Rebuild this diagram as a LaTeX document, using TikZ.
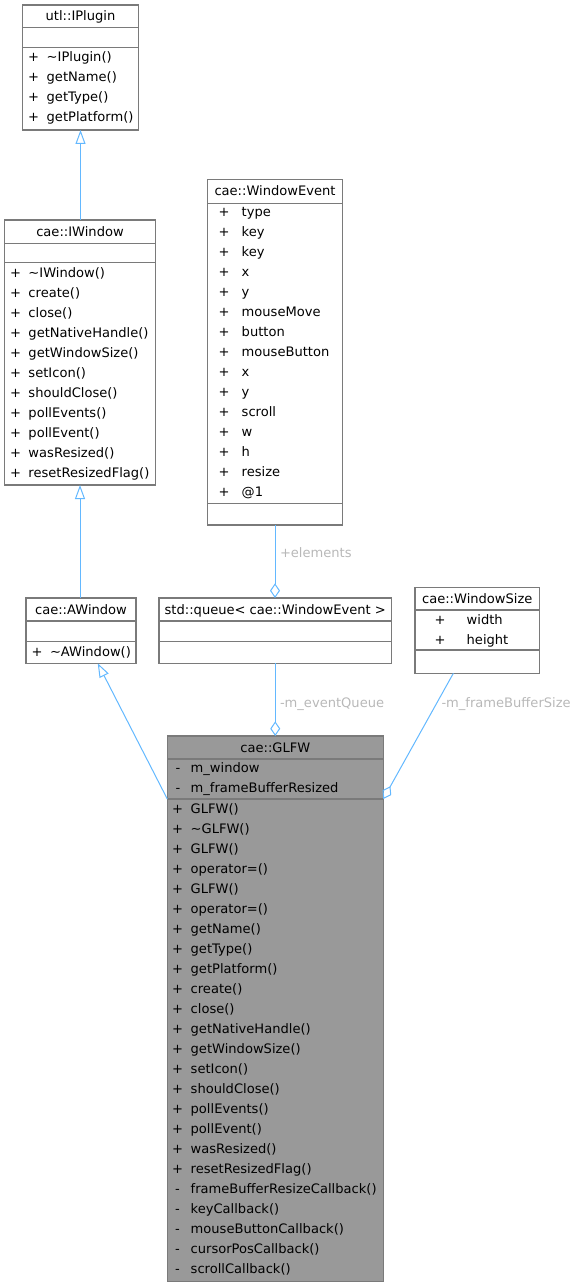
\documentclass[tikz,border=0pt]{standalone}
\usepackage{fontspec}
\setmainfont{DejaVu Sans}
\usetikzlibrary{arrows.meta,fit}
\definecolor{gBorder}{HTML}{7A7A7A}
\definecolor{gFocus}{HTML}{999999}
\definecolor{gRole}{HTML}{B8B8B8}
\definecolor{edgeBlue}{HTML}{63B8FF}
\tikzset{
  umlSet/.style={
    font=\fontsize{9.8}{12}\selectfont,
    every node/.style={inner sep=0pt, outer sep=0pt},
  },
  classBox/.style={draw=gBorder, fill=white, line width=0.9pt, inner sep=0pt},
  classBoxFocus/.style={classBox, fill=gFocus},
  classTitle/.style={anchor=base},
  memberSign/.style={anchor=base},
  memberName/.style={anchor=base west},
  compLine/.style={gBorder, line width=0.9pt},
  inheritEdge/.style={-{Triangle[open, length=10.5pt, width=7.5pt]}, edgeBlue, line width=0.75pt},
  aggrEdge/.style={-{Diamond[open, length=11pt, width=7.5pt]}, edgeBlue, line width=0.75pt},
  roleLabel/.style={anchor=base west, text=gRole},
}
\begin{document}
\begin{tikzpicture}[umlSet, x=0.75pt, y=-0.75pt]
\useasboundingbox (0,0) rectangle (578,1287);

% ============================================================
% utl::IPlugin
% ============================================================
\node[classBox, fit={(22.7,5) (138.3,130)}] (iplugin) {};
\draw[compLine] (iplugin.west |- 0,27.3) -- (iplugin.east |- 0,27.3);
\draw[compLine] (iplugin.west |- 0,47.3) -- (iplugin.east |- 0,47.3);
\node[classTitle] (ipluginT) at (iplugin.north |- 0,20.7) {utl::IPlugin};
\foreach \txt [count=\k from 0] in {{\textasciitilde IPlugin()}, getName(), getType(), getPlatform()} {
  \node[memberSign] (ipluginS\k) at (33.7,{61.2+20*\k}) {+};
  \node[memberName] (ipluginM\k) at (46.7,{61.2+20*\k}) {\txt};
}

% ============================================================
% cae::IWindow
% ============================================================
\node[classBox, fit={(4.5,220) (155.5,485)}] (iwindow) {};
\draw[compLine] (iwindow.west |- 0,243.3) -- (iwindow.east |- 0,243.3);
\draw[compLine] (iwindow.west |- 0,262.3) -- (iwindow.east |- 0,262.3);
\node[classTitle] (iwindowT) at (iwindow.north |- 0,236.8) {cae::IWindow};
\foreach \txt [count=\k from 0] in {{\textasciitilde IWindow()}, create(), close(),
    getNativeHandle(), getWindowSize(), setIcon(), shouldClose(), pollEvents(),
    pollEvent(), wasResized(), resetResizedFlag()} {
  \node[memberSign] (iwindowS\k) at (15.5,{277.2+20*\k}) {+};
  \node[memberName] (iwindowM\k) at (28.5,{277.2+20*\k}) {\txt};
}

% ============================================================
% cae::WindowEvent
% ============================================================
\node[classBox, fit={(207.3,179.5) (342.7,525)}] (wevent) {};
\draw[compLine] (wevent.west |- 0,203.3) -- (wevent.east |- 0,203.3);
\draw[compLine] (wevent.west |- 0,503.3) -- (wevent.east |- 0,503.3);
\node[classTitle] (weventT) at (wevent.north |- 0,195.5) {cae::WindowEvent};
\foreach \txt [count=\k from 0] in {type, key, key, x, y, mouseMove, button,
    mouseButton, x, y, scroll, w, h, resize, @1} {
  \node[memberSign] (weventS\k) at (224,{216.8+20*\k}) {+};
  \node[memberName] (weventM\k) at (241.7,{216.8+20*\k}) {\txt};
}

% ============================================================
% cae::AWindow
% ============================================================
\node[classBox, fit={(26,598) (136,663.3)}] (awindow) {};
\draw[compLine] (awindow.west |- 0,621) -- (awindow.east |- 0,621);
\draw[compLine] (awindow.west |- 0,641.7) -- (awindow.east |- 0,641.7);
\node[classTitle] (awindowT) at (awindow.north |- 0,614) {cae::AWindow};
\node[memberSign] (awindowS0) at (37,656.2) {+};
\node[memberName] (awindowM0) at (50,656.2) {\textasciitilde AWindow()};

% ============================================================
% std::queue< cae::WindowEvent >
% ============================================================
\node[classBox, fit={(159,598) (391.5,663.3)}] (queue) {};
\draw[compLine] (queue.west |- 0,621) -- (queue.east |- 0,621);
\draw[compLine] (queue.west |- 0,641.7) -- (queue.east |- 0,641.7);
\node[classTitle] (queueT) at (queue.north |- 0,614) {std::queue< cae::WindowEvent >};

% ============================================================
% cae::WindowSize
% ============================================================
\node[classBox, fit={(415,587.3) (539.5,673.3)}] (wsize) {};
\draw[compLine] (wsize.west |- 0,610) -- (wsize.east |- 0,610);
\draw[compLine] (wsize.west |- 0,650) -- (wsize.east |- 0,650);
\node[classTitle] (wsizeT) at (wsize.north |- 0,603.2) {cae::WindowSize};
\foreach \txt [count=\k from 0] in {width, height} {
  \node[memberSign] (wsizeS\k) at (440,{624+20*\k}) {+};
  \node[memberName] (wsizeM\k) at (466.7,{624+20*\k}) {\txt};
}

% ============================================================
% cae::GLFW (the class this graph is about)
% ============================================================
\node[classBoxFocus, fit={(167.3,736) (383.3,1281.5)}] (glfw) {};
\draw[compLine] (glfw.west |- 0,759) -- (glfw.east |- 0,759);
\draw[compLine] (glfw.west |- 0,799) coordinate (glfwDivL)
  -- (glfw.east |- 0,799) coordinate (glfwDivR);
\node[classTitle] (glfwT) at (glfw.north |- 0,752.5) {cae::GLFW};
\foreach \txt [count=\k from 0] in {m\_window, m\_frameBufferResized} {
  \node[memberSign] (glfwAS\k) at (178,{772.5+20*\k}) {-};
  \node[memberName] (glfwAM\k) at (190.7,{772.5+20*\k}) {\txt};
}
\foreach \sgn/\txt [count=\k from 0] in {+/GLFW(), +/{\textasciitilde GLFW()}, +/GLFW(),
    +/operator=(), +/GLFW(), +/operator=(), +/getName(), +/getType(),
    +/getPlatform(), +/create(), +/close(), +/getNativeHandle(),
    +/getWindowSize(), +/setIcon(), +/shouldClose(), +/pollEvents(),
    +/pollEvent(), +/wasResized(), +/resetResizedFlag(),
    -/frameBufferResizeCallback(), -/keyCallback(), -/mouseButtonCallback(),
    -/cursorPosCallback(), -/scrollCallback()} {
  \node[memberSign] (glfwS\k) at (177.5,{813.5+20*\k}) {\sgn};
  \node[memberName] (glfwM\k) at (190.7,{813.5+20*\k}) {\txt};
}

% ============================================================
% Relations
% ============================================================
% inheritance
\draw[inheritEdge] (iplugin.south |- iwindow.north) -- (iplugin.south);
\draw[inheritEdge] (iwindow.south |- awindow.north) -- (iwindow.south);
\draw[inheritEdge] (glfwDivL) -- (awindow);

% aggregation, with role names
\draw[aggrEdge] (wevent.south) -- (wevent.south |- queue.north);
\node[roleLabel] (elementsL) at (280,557.8) {+elements};
\draw[aggrEdge] (queue.south) -- (queue.south |- glfw.north);
\node[roleLabel] (eventQueueL) at (280,707.8) {-m\_eventQueue};
\draw[aggrEdge] (wsize) -- (glfwDivR);
\node[roleLabel] (fbSizeL) at (441.5,707.8) {-m\_frameBufferSize};

\end{tikzpicture}
\end{document}
